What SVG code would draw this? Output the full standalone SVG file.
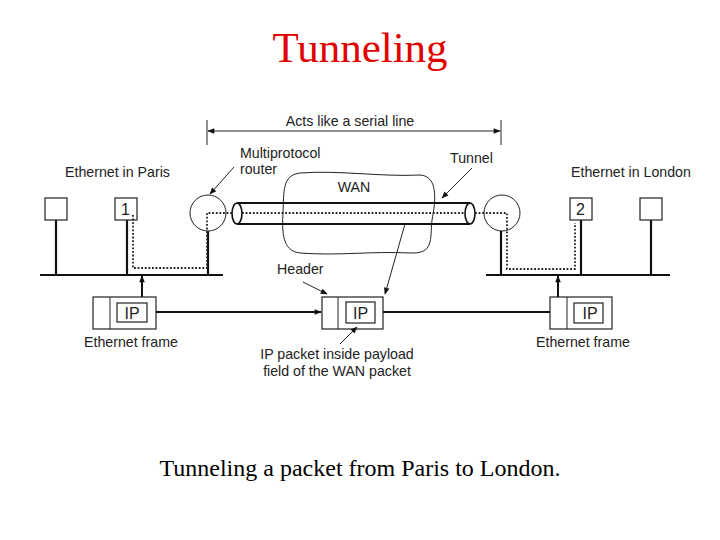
<svg xmlns="http://www.w3.org/2000/svg" width="720" height="540" viewBox="0 0 720 540">
<style>
.lbl{font-family:"Liberation Sans",Arial,sans-serif;font-size:14.2px;fill:#222}
.ip{font-family:"Liberation Sans",Arial,sans-serif;font-size:16px;fill:#222}
.thin{fill:#fff;stroke:#222;stroke-width:1.2}
.thick{stroke:#111;stroke-width:2.2;fill:none}
.dot{stroke:#222;stroke-width:1.8;stroke-dasharray:1.8 1.8;fill:none}
.ln{stroke:#222;stroke-width:1;fill:none}
</style>
<defs>
<marker id="ah" viewBox="0 0 10 10" refX="9" refY="5" markerWidth="8" markerHeight="7" orient="auto" markerUnits="userSpaceOnUse">
<path d="M0,1 L10,5 L0,9 Z" fill="#111"/>
</marker>
</defs>
<rect width="720" height="540" fill="#fff"/>
<text x="360" y="62" text-anchor="middle" font-family="'Liberation Serif','Times New Roman',serif" font-size="43" fill="#e00000">Tunneling</text>
<text x="360" y="476" text-anchor="middle" font-family="'Liberation Serif','Times New Roman',serif" font-size="24" fill="#000">Tunneling a packet from Paris to London.</text>

<g id="wan">
<path d="M300,173 C340,170 380,177 420,175 C438,176 436,200 432,220 C430,240 434,254 410,253 C370,251 340,256 300,253 C282,251 282,232 283,212 C284,192 282,175 300,173 Z" class="ln"/>
<text x="354" y="192" text-anchor="middle" class="lbl">WAN</text>
</g>

<g id="paris">
<line x1="40" y1="275" x2="223" y2="275" class="thick"/>
<line x1="56" y1="220" x2="56" y2="275" class="thick"/>
<rect x="45" y="198" width="22" height="22" class="thin"/>
<line x1="127" y1="220" x2="127" y2="275" class="thick"/>
<rect x="115" y="198" width="22" height="22" class="thin"/>
<text x="121" y="215" class="ip" font-size="15">1</text>
<line x1="208" y1="231" x2="208" y2="275" class="thick"/>
<circle cx="208" cy="213" r="18" class="ln"/>
<text x="65" y="177" class="lbl">Ethernet in Paris</text>
</g>

<g id="london">
<line x1="486" y1="275" x2="670" y2="275" class="thick"/>
<line x1="501" y1="231" x2="501" y2="275" class="thick"/>
<circle cx="502" cy="213" r="18" class="ln"/>
<line x1="581" y1="220" x2="581" y2="275" class="thick"/>
<rect x="570" y="198" width="22" height="22" class="thin"/>
<text x="576" y="215" class="ip" font-size="15">2</text>
<line x1="651" y1="220" x2="651" y2="275" class="thick"/>
<rect x="640" y="198" width="22" height="22" class="thin"/>
<text x="571" y="177" class="lbl">Ethernet in London</text>
</g>

<g id="tunnel">
<line x1="237" y1="203" x2="470" y2="203" class="thick"/>
<line x1="237" y1="224" x2="470" y2="224" class="thick"/>
<ellipse cx="237" cy="213.5" rx="5" ry="10.5" fill="#fff" stroke="#111" stroke-width="1.6"/>
<ellipse cx="470" cy="213.5" rx="5" ry="10.5" fill="none" stroke="#111" stroke-width="1.6"/>
<text x="450" y="163" class="lbl">Tunnel</text>
</g>

<g id="frame-paris">
<rect x="93" y="297" width="63" height="32" class="thin"/>
<line x1="110" y1="297" x2="110" y2="329" class="ln"/>
<rect x="117" y="303" width="30" height="19" class="thin"/>
<text x="132" y="318.5" text-anchor="middle" class="ip">IP</text>
<text x="84" y="347" class="lbl">Ethernet frame</text>
</g>

<g id="frame-wan">
<rect x="322" y="297" width="61" height="32" class="thin"/>
<line x1="338" y1="297" x2="338" y2="329" class="ln"/>
<rect x="346" y="302" width="29" height="21" class="thin"/>
<text x="360.5" y="318.5" text-anchor="middle" class="ip">IP</text>
<text x="277" y="274" class="lbl">Header</text>
<text x="337" y="359" text-anchor="middle" class="lbl">IP packet inside payload</text>
<text x="337" y="376" text-anchor="middle" class="lbl">field of the WAN packet</text>
</g>

<g id="frame-london">
<rect x="550" y="297" width="62" height="32" class="thin"/>
<line x1="567" y1="297" x2="567" y2="329" class="ln"/>
<rect x="574" y="303" width="29" height="20" class="thin"/>
<text x="590" y="319" text-anchor="middle" class="ip">IP</text>
<text x="536" y="347" class="lbl">Ethernet frame</text>
</g>

<g id="serial">
<line x1="207" y1="120" x2="207" y2="145" class="ln" stroke-width="1.3"/>
<line x1="501" y1="120" x2="501" y2="145" class="ln" stroke-width="1.3"/>
<text x="350" y="126" text-anchor="middle" class="lbl">Acts like a serial line</text>
<text x="240" y="158" class="lbl">Multiprotocol</text>
<text x="240" y="174" class="lbl">router</text>
</g>

<g id="connectors">
<path d="M133,215 L133,268 L207,268 L207,213 L232,213" class="dot"/>
<line x1="242" y1="213" x2="465" y2="213" class="dot"/>
<path d="M475,213 L507,213 L507,269 L575,269 L575,223" class="dot"/>
<line x1="354" y1="131" x2="208" y2="131" class="ln" marker-end="url(#ah)"/>
<line x1="354" y1="131" x2="500" y2="131" class="ln" marker-end="url(#ah)"/>
<line x1="142" y1="297" x2="142" y2="276" stroke="#111" stroke-width="2" marker-end="url(#ah)"/>
<line x1="558" y1="297" x2="558" y2="276" stroke="#111" stroke-width="2" marker-end="url(#ah)"/>
<line x1="156" y1="312" x2="321" y2="312" stroke="#111" stroke-width="2" marker-end="url(#ah)"/>
<line x1="383" y1="312" x2="550" y2="312" stroke="#111" stroke-width="2"/>
<line x1="303" y1="282" x2="327" y2="294" class="ln" marker-end="url(#ah)"/>
<line x1="405" y1="224" x2="385" y2="294" class="ln" marker-end="url(#ah)"/>
<line x1="340" y1="344" x2="357" y2="327" class="ln" marker-end="url(#ah)"/>
<line x1="234" y1="167" x2="210" y2="194" class="ln" marker-end="url(#ah)"/>
<line x1="472" y1="168" x2="442" y2="198" class="ln" marker-end="url(#ah)"/>
</g>
</svg>
